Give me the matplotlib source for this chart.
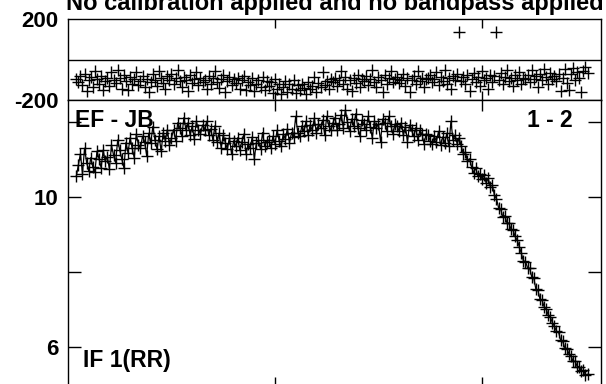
import numpy as np
import matplotlib
matplotlib.use("Agg")
import matplotlib.pyplot as plt

plt.rcParams['font.family'] = ['Liberation Sans', 'DejaVu Sans']

title = "No calibration applied and no bandpass applied"
baseline_label = "EF - JB"
scan_label = "1 - 2"
if_label = "IF 1(RR)"

first_channel = 4
x_ticks = [100, 200]
phase_ticks = [-200, 200]
amp_ticks = [6, 8, 10, 12]
amp_tick_labels = ["6", "", "10", ""]

amplitude = [
    10.55, 10.85, 11.15, 10.62, 11.30, 10.92, 10.70, 11.05, 10.80, 10.68, 11.22, 11.02, 10.78, 11.25, 10.95,
    11.08, 10.75, 11.38, 11.12, 10.92, 11.52, 11.25, 11.02, 10.78, 11.45, 11.18, 11.58, 11.30, 11.05, 11.68, 11.40,
    11.30, 11.62, 11.48, 11.10, 11.70, 11.45, 11.88, 11.52, 11.28, 11.62, 11.22, 11.72, 11.50, 11.80, 11.38,
    11.58, 11.80, 11.50, 11.98, 11.85, 11.62, 12.12, 11.78, 11.98, 11.65, 11.90, 11.55, 12.02, 11.80, 11.68, 11.92,
    11.80, 12.02, 11.65, 11.82, 11.52, 11.90, 11.48, 11.70, 11.32, 11.65, 11.45, 11.28, 11.58, 11.15, 11.50,
    11.35, 11.58, 11.25, 11.48, 11.68, 11.15, 11.42, 11.30, 11.60, 11.02, 11.45, 11.52, 11.28, 11.72, 11.35, 11.48,
    11.52, 11.30, 11.62, 11.42, 11.78, 11.50, 11.35, 11.68, 11.55, 11.82, 11.45, 11.72, 11.60, 12.15, 11.72,
    11.62, 11.90, 11.75, 12.02, 11.65, 11.92, 11.78, 12.10, 11.70, 11.95, 11.85, 12.05, 11.65, 12.15, 11.90, 11.78,
    11.98, 12.12, 11.80, 11.95, 12.20, 11.85, 12.32, 12.00, 11.75, 12.08, 11.90, 12.22, 11.85, 11.62, 12.05,
    11.95, 11.80, 12.15, 11.88, 11.58, 12.02, 11.85, 11.95, 11.48, 12.08, 11.98, 11.75, 12.15, 11.90, 11.68, 11.95,
    11.90, 11.75, 11.98, 11.65, 11.88, 11.48, 11.92, 11.78, 11.62, 11.85, 11.52, 11.78, 11.68, 11.42, 11.68,
    11.65, 11.50, 11.42, 11.62, 11.48, 11.75, 11.38, 11.60, 11.45, 11.70, 11.35, 12.02, 11.52, 11.65, 11.42, 11.58,
    11.35, 11.15, 11.20, 10.95, 11.02, 10.80, 10.65, 10.78, 10.55, 10.62, 10.48, 10.58, 10.38, 10.50, 10.28, 10.32,
    10.05, 9.95, 9.72, 9.68, 9.48, 9.50, 9.32, 9.30, 9.15, 9.12, 8.95, 8.85, 8.68, 8.50, 8.30, 8.28,
    8.12, 8.10, 7.88, 7.85, 7.55, 7.52, 7.28, 7.25, 7.08, 7.02, 6.85, 6.80, 6.65, 6.55, 6.42,
    6.40, 6.18, 6.15, 5.98, 5.96, 5.82, 5.76, 5.62, 5.62, 5.48, 5.48, 5.36, 5.38, 5.26, 5.27,
]

phase = [
    -95, -110, -80, -125, -70, -155, -102, -88, -138, -55, -98, -120, -82, -150, -105,
    -90, -130, -62, -100, -115, -50, -92, -145, -78, -108, -150, -85, -120, -98, -60, -125,
    -105, -82, -138, -95, -160, -110, -72, -100, -130, -58, -90, -115, -148, -80, -102,
    -70, -122, -92, -52, -108, -135, -88, -100, -155, -78, -118, -98, -60, -128, -90, -110,
    -100, -148, -82, -120, -92, -58, -112, -140, -95, -75, -160, -105, -85, -125, -98,
    -115, -90, -145, -102, -80, -150, -110, -125, -92, -158, -120, -100, -138, -88, -152, -108,
    -130, -112, -165, -98, -145, -122, -170, -135, -105, -160, -120, -148, -100, -165, -128,
    -150, -120, -140, -168, -110, -145, -130, -88, -160, -115, -135, -62, -125, -105, -148, -95,
    -112, -90, -130, -100, -55, -120, -85, -145, -102, -158, -92, -115, -75, -138, -98,
    -108, -80, -125, -95, -50, -112, -138, -88, -100, -160, -78, -120, -92, -58, -110, -98,
    -85, -115, -100, -70, -130, -92, -160, -102, -80, -120, -55, -108, -90, -138, -98,
    -92, -75, -112, -98, -62, -125, -85, -105, -50, -120, -90, -148, -80, -100, -70, 138,
    -105, -88, -120, -75, -155, -98, -65, -110, -85, -130, -55, -100, -90, -145, -78, -112,
    -80, 138, -100, -65, -120, -88, -52, -108, -92, -130, -75, -102, -60, -122, -90, -98,
    -75, -110, -50, -95, -82, -138, -70, -100, -45, -88, -120, -65, -98, -80, -105,
    -70, -158, -92, -48, -118, -150, -72, -40, -102, -62, -90, -162, -58, -35, -68,
]

channels = np.arange(first_channel, first_channel + len(amplitude))

W, H = 606, 384
fig = plt.figure(figsize=(W / 100, H / 100), dpi=100)
fig.patch.set_facecolor('white')

ax1 = fig.add_axes([68 / W, 1 - 100 / H, 533 / W, 81 / H])
ax2 = fig.add_axes([68 / W, -4 / H, 533 / W, 288 / H])

# Phase panel
ax1.plot(channels, phase, ls='none', marker='+', color='black', ms=8, mew=1.0)
ax1.axhline(0, color='black', lw=1.0)
ax1.set_xlim(0, 257.5)
ax1.set_ylim(-200, 200)
ax1.set_xticks(x_ticks)
ax1.tick_params(axis='x', direction='in', length=6.5, width=1, top=True, bottom=True,
                labelbottom=False)
ax1.set_yticks(phase_ticks)
ax1.set_yticklabels([str(v) for v in phase_ticks])
ax1.tick_params(axis='y', length=0, pad=7, labelsize=16)

# Amplitude panel
ax2.plot(channels, amplitude, color='black', lw=0.9, marker='+', ms=8, mew=1.0)
ax2.set_xlim(0, 257.5)
ax2.set_ylim(4.907, 12.587)
ax2.set_xticks(x_ticks)
ax2.tick_params(axis='x', direction='in', length=8, width=1, top=True, bottom=True,
                labelbottom=False)
ax2.set_yticks(amp_ticks)
ax2.set_yticklabels(amp_tick_labels)
ax2.tick_params(axis='y', direction='in', length=9.5, width=1, left=True, right=True,
                pad=7, labelsize=16)

for ax in (ax1, ax2):
    for s in ax.spines.values():
        s.set_linewidth(1.0)
        s.set_color('black')
    for lab in ax.get_yticklabels():
        lab.set_fontweight('bold')

fig.text(334.5 / W, 1 - 10 / H, title, ha='center', va='baseline',
         fontsize=17, fontweight='bold')
fig.text(75 / W, 1 - 127 / H, baseline_label, ha='left', va='baseline',
         fontsize=16.5, fontweight='bold')
fig.text(573 / W, 1 - 127 / H, scan_label, ha='right', va='baseline',
         fontsize=16.5, fontweight='bold')
fig.text(83 / W, 1 - 367 / H, if_label, ha='left', va='baseline',
         fontsize=16.5, fontweight='bold')

fig.savefig('out.png', dpi=100)
